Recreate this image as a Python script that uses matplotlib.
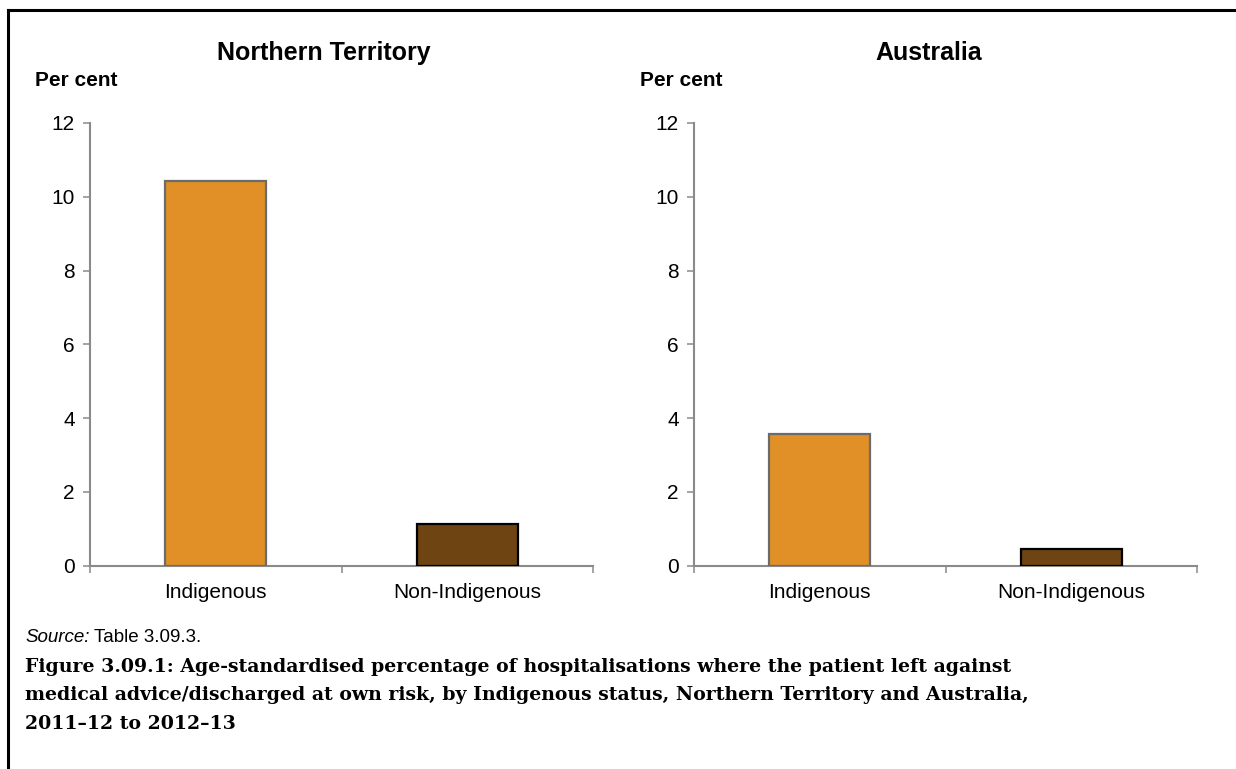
import matplotlib
matplotlib.use("Agg")
import matplotlib.pyplot as plt
from matplotlib.lines import Line2D
from matplotlib.ticker import FixedLocator

# Age-standardised % of hospitalisations where patient left against medical advice
categories = ["Indigenous", "Non-Indigenous"]
nt_values = [10.42, 1.12]
aus_values = [3.57, 0.45]
panel_titles = ["Northern Territory", "Australia"]
y_ticks = [0, 2, 4, 6, 8, 10, 12]

bar_colors = ["#E18F27", "#6E4412"]
bar_edges = ["#6B6B6B", "#000000"]
axis_grey = "#8A8A8A"

W, H = 1236, 769
fig = plt.figure(figsize=(W / 100, H / 100), dpi=100)
fig.patch.set_facecolor("white")

sans = "Liberation Sans"
serif = "DejaVu Serif"


def draw_panel(ax, values):
    x = list(range(len(categories)))
    ax.bar(x, values, width=0.4, color=bar_colors, edgecolor=bar_edges,
           linewidth=1.6, zorder=3)
    ax.set_xlim(-0.5, len(categories) - 0.5)
    ax.set_ylim(0, 12)
    ax.set_yticks(y_ticks)
    ax.set_yticklabels([str(t) for t in y_ticks], fontfamily=sans, fontsize=15)
    ax.set_xticks(x)
    ax.set_xticklabels(categories, fontfamily=sans, fontsize=15)
    ax.xaxis.set_minor_locator(FixedLocator([-0.5, 0.5, 1.5]))
    ax.tick_params(axis="x", which="major", length=0, pad=12.5)
    ax.tick_params(axis="x", which="minor", length=5, width=1.1,
                   color=axis_grey, direction="out")
    ax.tick_params(axis="y", which="major", length=5, width=1.1,
                   color=axis_grey, direction="out", pad=6)
    for side in ("top", "right"):
        ax.spines[side].set_visible(False)
    for side in ("left", "bottom"):
        ax.spines[side].set_color(axis_grey)
        ax.spines[side].set_linewidth(1.5)
    ax.set_facecolor("none")


ax_bottom = 1 - 565.5 / H
ax_height = (565.5 - 123) / H
ax_width = 503 / W

ax1 = fig.add_axes([90 / W, ax_bottom, ax_width, ax_height])
ax2 = fig.add_axes([694 / W, ax_bottom, ax_width, ax_height])
draw_panel(ax1, nt_values)
draw_panel(ax2, aus_values)

# Panel headings and axis unit labels
fig.text(324 / W, 1 - 53 / H, panel_titles[0], ha="center", va="center",
         fontfamily=sans, fontweight="bold", fontsize=18)
fig.text(929 / W, 1 - 53 / H, panel_titles[1], ha="center", va="center",
         fontfamily=sans, fontweight="bold", fontsize=18)
fig.text(35 / W, 1 - 80 / H, "Per cent", ha="left", va="center",
         fontfamily=sans, fontweight="bold", fontsize=15)
fig.text(640 / W, 1 - 80 / H, "Per cent", ha="left", va="center",
         fontfamily=sans, fontweight="bold", fontsize=15)

# Source note
src = fig.text(25 / W, 1 - 638 / H, "Source:", ha="left", va="center",
               fontfamily=sans, fontstyle="italic", fontsize=13.5)
fig.canvas.draw()
bb = src.get_window_extent()
fig.text((bb.x1 + 4) / W, 1 - 638 / H, "Table 3.09.3.", ha="left", va="center",
         fontfamily=sans, fontsize=13.5)

# Figure caption
caption_lines = [
    "Figure 3.09.1: Age-standardised percentage of hospitalisations where the patient left against",
    "medical advice/discharged at own risk, by Indigenous status, Northern Territory and Australia,",
    "2011\u201312 to 2012\u201313",
]
for i, line in enumerate(caption_lines):
    fig.text(25 / W, 1 - (667 + 28.5 * i) / H, line, ha="left", va="center",
             fontfamily=serif, fontweight="bold", fontsize=13.6)

# Frame around the figure (top and left edges)
fig.add_artist(Line2D([8 / W, 1.0], [1 - 10 / H, 1 - 10 / H],
                      transform=fig.transFigure, color="black", linewidth=2.2))
fig.add_artist(Line2D([8 / W, 8 / W], [1 - 10 / H, 0.0],
                      transform=fig.transFigure, color="black", linewidth=2.2))

fig.savefig("out.png", dpi=100)
